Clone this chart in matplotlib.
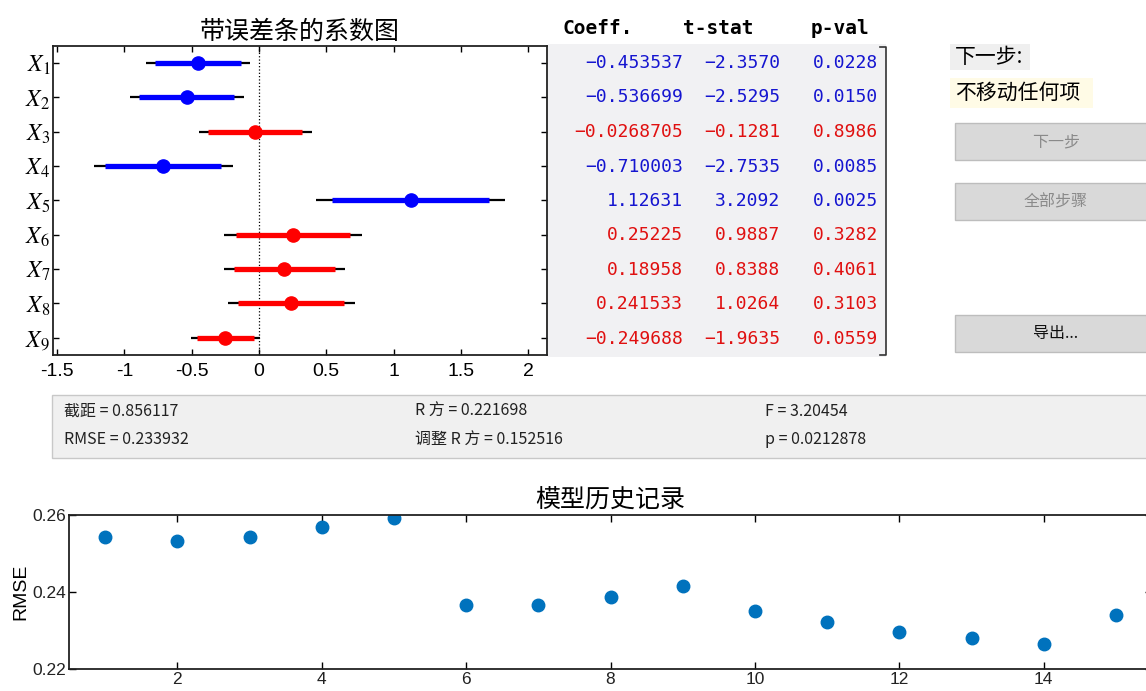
import matplotlib
matplotlib.use('Agg')
import matplotlib.pyplot as plt
from matplotlib.patches import Rectangle

plt.rcParams['font.family'] = ['Noto Sans CJK SC', 'DejaVu Sans']
plt.rcParams['axes.unicode_minus'] = False
plt.rcParams['mathtext.fontset'] = 'stix'

# coefficient table
terms = ['1', '2', '3', '4', '5', '6', '7', '8', '9']
coef = [-0.453537, -0.536699, -0.0268705, -0.710003, 1.12631, 0.25225, 0.18958, 0.241533, -0.249688]
tstat = [-2.3570, -2.5295, -0.1281, -2.7535, 3.2092, 0.9887, 0.8388, 1.0264, -1.9635]
pval = [0.0228, 0.0150, 0.8986, 0.0085, 0.0025, 0.3282, 0.4061, 0.3103, 0.0559]
in_model = [True, True, False, True, True, False, False, False, False]

# confidence intervals: thin black = 95%, thick coloured = 90%
ci95_lo = [-0.838, -0.961, -0.446, -1.226, 0.424, -0.258, -0.262, -0.229, -0.504]
ci95_hi = [-0.069, -0.112, 0.393, -0.194, 1.828, 0.763, 0.642, 0.712, 0.005]
ci90_lo = [-0.775, -0.891, -0.377, -1.141, 0.540, -0.174, -0.188, -0.152, -0.462]
ci90_hi = [-0.132, -0.182, 0.323, -0.279, 1.712, 0.678, 0.567, 0.635, -0.037]

# model summary
intercept = 0.856117
rsq = 0.221698
fstat = 3.20454
rmse = 0.233932
adj_rsq = 0.152516
p_model = 0.0212878

# model history
steps = list(range(1, 16))
rmse_hist = [0.2542, 0.2533, 0.2544, 0.2568, 0.2591, 0.2365, 0.2366, 0.2386, 0.2416,
             0.2351, 0.2322, 0.2295, 0.2281, 0.2266, 0.2339]

W, H = 1146, 691
fig = plt.figure(figsize=(W / 100, H / 100), dpi=100)
fig.patch.set_facecolor('white')


def fx(px):
    return px / W


def fy(py):
    return 1 - py / H


# ---------- coefficient plot ----------
ax = fig.add_axes([fx(53), fy(355), fx(547) - fx(53), fy(46) - fy(355)])
rows = list(range(1, len(terms) + 1))
for i, r in enumerate(rows):
    col = 'blue' if in_model[i] else 'red'
    ax.plot([ci95_lo[i], ci95_hi[i]], [r, r], color='black', lw=1.6, solid_capstyle='butt', zorder=2)
    ax.plot([ci90_lo[i], ci90_hi[i]], [r, r], color=col, lw=3.8, solid_capstyle='butt', zorder=3)
    ax.plot(coef[i], r, 'o', color=col, ms=9.5, zorder=4)
ax.axvline(0, color='black', ls=':', lw=0.9, zorder=1)
ax.set_xlim(-1.53, 2.14)
ax.set_ylim(9.5, 0.5)
ax.set_xticks([-1.5, -1, -0.5, 0, 0.5, 1, 1.5, 2])
ax.set_xticklabels(['-1.5', '-1', '-0.5', '0', '0.5', '1', '1.5', '2'],
                   family=['Liberation Sans'], fontsize=14)
ax.set_yticks(rows)
ax.set_yticklabels([r'$X_{\mathit{%s}}$' % t for t in terms], fontsize=17)
ax.tick_params(axis='x', direction='in', top=True, length=4, width=1, pad=6)
ax.tick_params(axis='y', direction='in', right=True, length=4, width=1, pad=2)
for s in ax.spines.values():
    s.set_linewidth(1.3)
    s.set_color('#222222')
ax.set_title('带误差条的系数图', fontsize=18, pad=5)

# ---------- coefficient table ----------
tab = fig.add_axes([fx(548), fy(357), fx(889) - fx(548), fy(44) - fy(357)])
tab.set_xlim(548, 889)
tab.set_ylim(357, 44)
tab.axis('off')
tab.add_patch(Rectangle((548, 44), 338, 313, facecolor='#f1f1f3', edgecolor='none', zorder=0))
tab.plot([880, 886, 886, 880], [47, 47, 355, 355], color='#333333', lw=1.2)

for x, s in [(598, 'Coeff.'), (718, 't-stat'), (840, 'p-val')]:
    fig.text(fx(x), fy(28), s, family=['DejaVu Sans Mono'], fontsize=14,
             weight='semibold', ha='center', va='center')


def fmt(v, spec):
    return (spec % v).replace('-', '\u2212')


row_y = [63 + 34.5 * i for i in range(len(terms))]
for i in range(len(terms)):
    col = '#1515d0' if in_model[i] else '#e01010'
    y = fy(row_y[i])
    fig.text(fx(683), y, fmt(coef[i], '%.6g'), family=['DejaVu Sans Mono'], fontsize=13,
             color=col, ha='right', va='center')
    fig.text(fx(780), y, fmt(tstat[i], '%.4f'), family=['DejaVu Sans Mono'], fontsize=13,
             color=col, ha='right', va='center')
    fig.text(fx(878), y, fmt(pval[i], '%.4f'), family=['DejaVu Sans Mono'], fontsize=13,
             color=col, ha='right', va='center')

# ---------- right control panel ----------
fig.patches.append(Rectangle((fx(950), fy(70)), fx(1030) - fx(950), fy(44) - fy(70),
                             transform=fig.transFigure, facecolor='#efefef', edgecolor='none'))
fig.patches.append(Rectangle((fx(950), fy(108)), fx(1093) - fx(950), fy(78) - fy(108),
                             transform=fig.transFigure, facecolor='#fffbe6', edgecolor='none'))
fig.text(fx(955), fy(57), '下一步:', fontsize=15, ha='left', va='center')
fig.text(fx(955), fy(93), '不移动任何项', fontsize=15, ha='left', va='center')

buttons = [('下一步', 123, 160, '#8a8a8a'), ('全部步骤', 183, 220, '#8a8a8a'), ('导出...', 315, 352, '#111111')]
for label, top, bot, tcol in buttons:
    fig.patches.append(Rectangle((fx(955), fy(bot)), fx(1160) - fx(955), fy(top) - fy(bot),
                                 transform=fig.transFigure, facecolor='#d9d9d9',
                                 edgecolor='#bdbdbd', lw=1))
    fig.text(fx(1056), fy((top + bot) / 2), label, fontsize=11.5, color=tcol,
             ha='center', va='center')

# ---------- summary panel ----------
fig.patches.append(Rectangle((fx(52), fy(458)), fx(1150) - fx(52), fy(395) - fy(458),
                             transform=fig.transFigure, facecolor='#f0f0f0',
                             edgecolor='#c8c8c8', lw=1))
summary = [
    (64, 411, '截距 = %g' % intercept),
    (415, 411, 'R 方 = %g' % rsq),
    (765, 411, 'F = %g' % fstat),
    (64, 440, 'RMSE = %g' % rmse),
    (415, 440, '调整 R 方 = %g' % adj_rsq),
    (765, 440, 'p = %g' % p_model),
]
for x, y, s in summary:
    fig.text(fx(x), fy(y), s, fontsize=11.5, ha='left', va='center', color='#222222')

# ---------- model history ----------
bx = fig.add_axes([fx(69), fy(669), fx(1152) - fx(69), fy(515) - fy(669)])
bx.plot(steps, rmse_hist, 'o', color='#0072BD', ms=9, ls='none')
bx.set_xlim(0.5, 15.5)
bx.set_ylim(0.22, 0.26)
bx.set_xticks(range(2, 16, 2))
bx.set_yticks([0.22, 0.24, 0.26])
bx.set_yticklabels(['0.22', '0.24', '0.26'])
for lab in bx.get_xticklabels() + bx.get_yticklabels():
    lab.set_family(['Liberation Sans'])
    lab.set_fontsize(12.5)
    lab.set_color('#222222')
bx.tick_params(direction='in', top=True, right=True, length=5, width=1, pad=2)
for s in bx.spines.values():
    s.set_linewidth(1.3)
    s.set_color('#222222')
bx.set_title('模型历史记录', fontsize=18, pad=5)
bx.set_ylabel('RMSE', family=['Liberation Sans'], fontsize=14, labelpad=2)

fig.savefig('out.png', dpi=100)
